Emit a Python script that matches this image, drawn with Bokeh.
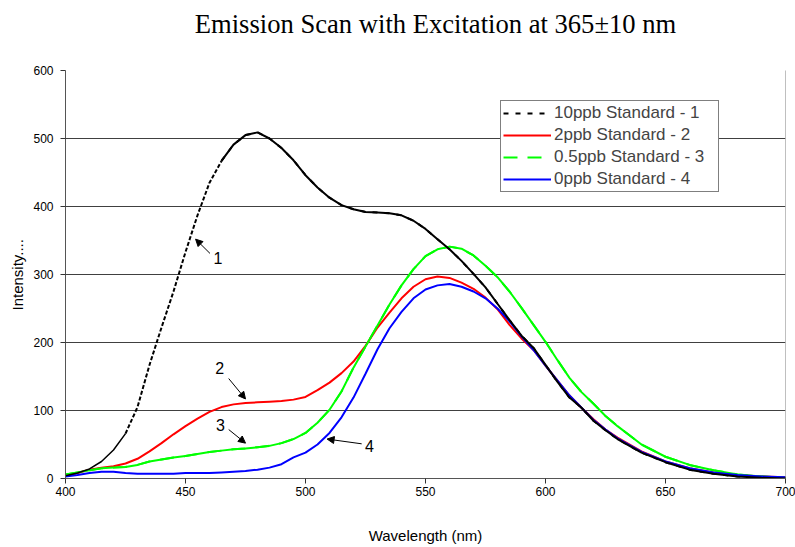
from bokeh.plotting import figure
from bokeh.models import Legend, LegendItem, Arrow, NormalHead, Label, FixedTicker, Title
from bokeh.embed import file_html
from bokeh.resources import INLINE

# ---- data ----
wavelength = [400, 405, 410, 415, 420, 425, 430, 435, 440, 445, 450, 455, 460, 465, 470,
              475, 480, 485, 490, 495, 500, 505, 510, 515, 520, 525, 530, 535, 540, 545,
              550, 555, 560, 565, 570, 575, 580, 585, 590, 595, 600, 605, 610, 615, 620,
              625, 630, 640, 650, 660, 670, 680, 690, 700]

std_10ppb = [4, 8, 14, 25, 42, 66, 105, 167, 222, 275, 333, 387, 435, 467, 491,
             505, 509, 500, 486, 468, 446, 428, 413, 402, 396, 392, 391, 390, 387, 379,
             367, 352, 337, 320, 301, 281, 257, 233, 210, 192, 167, 142, 119, 104, 85,
             71, 58, 38, 24, 13, 7, 3, 1, 0]

std_2ppb = [4, 8, 13, 16, 18, 22, 29, 40, 52, 65, 77, 88, 98, 105, 109,
            111, 112, 113, 114, 116, 120, 130, 141, 155, 172, 195, 222, 244, 265, 282,
            293, 297, 295, 288, 279, 266, 249, 226, 206, 189, 166, 144, 122, 104, 87,
            72, 60, 40, 25, 15, 9, 5, 3, 2]

std_05ppb = [6, 9, 12, 15, 16, 17, 20, 25, 28, 31, 33, 36, 39, 41, 43,
             44, 46, 48, 52, 58, 67, 82, 101, 128, 163, 194, 225, 256, 284, 308,
             327, 337, 341, 338, 328, 313, 296, 275, 251, 226, 201, 174, 148, 127, 110,
             92, 77, 50, 32, 20, 12, 6, 3, 1]

std_0ppb = [3, 5, 8, 10, 10, 8, 7, 7, 7, 7, 8, 8, 8, 9, 10,
            11, 13, 16, 21, 31, 38, 50, 67, 90, 119, 154, 190, 221, 245, 265,
            278, 284, 286, 282, 275, 265, 250, 231, 209, 189, 166, 144, 122, 104, 86,
            72, 59, 39, 25, 15, 9, 5, 3, 2]

series_names = ["10ppb Standard - 1", "2ppb Standard - 2", "0.5ppb Standard - 3", "0ppb Standard - 4"]
x_min, x_max = 400, 700
y_min, y_max = 0, 600
x_ticks = [400, 450, 500, 550, 600, 650, 700]
y_ticks = [0, 100, 200, 300, 400, 500, 600]
grid_lines = [100, 200, 300, 400, 500]

# curve annotations: label text, label position, arrow tail, arrow tip
ann_text = ["1", "2", "3", "4"]
ann_label_x = [463.5, 464.3, 464.6, 526.6]
ann_label_y = [325, 163, 78, 48]
ann_tail_x = [460.2, 468.0, 468.0, 523.4]
ann_tail_y = [331, 147, 72, 51]
ann_tip_x = [454.2, 475.0, 475.0, 509.0]
ann_tip_y = [352, 117, 52, 58]

# ---- figure ----
# the frame extends to the top of the canvas so that the title can sit inside it;
# the 0..600 intensity scale occupies the lower 408 px of the 478 px frame
W, H = 795, 547
border_left, border_right, border_bottom = 65, 10, 69
frame_h = H - border_bottom
plot_h = 408
y_top = y_max * frame_h / plot_h

p = figure(width=W, height=H, x_range=(x_min, x_max), y_range=(y_min, y_top),
           output_backend="svg", toolbar_location=None,
           min_border_left=border_left, min_border_right=border_right,
           min_border_top=0, min_border_bottom=border_bottom)
p.outline_line_color = None
p.background_fill_color = "white"
p.border_fill_color = "white"

# axes
for ax in (p.xaxis, p.yaxis):
    ax.axis_line_color = "#555555"
    ax.major_tick_line_color = "#333333"
    ax.major_tick_out = 5
    ax.major_tick_in = 0
    ax.minor_tick_line_color = None
    ax.major_label_text_font = "Liberation Sans"
    ax.major_label_text_font_size = "12px"
    ax.major_label_text_color = "black"
    ax.axis_label_text_font = "Liberation Sans"
    ax.axis_label_text_font_size = "15px"
    ax.axis_label_text_font_style = "normal"
    ax.axis_label_text_color = "black"
p.xaxis.ticker = FixedTicker(ticks=x_ticks)
p.yaxis.ticker = FixedTicker(ticks=y_ticks)
p.yaxis.bounds = (y_min, y_max)
p.xaxis.major_label_standoff = 3
p.yaxis.major_label_standoff = 7
p.xaxis.axis_label = "Wavelength (nm)"
p.xaxis.axis_label_standoff = 28

# y-axis title, placed along the 0..600 part of the frame
p.add_layout(Title(text="Intensity....", align="left", offset=168,
                   text_font="Liberation Sans", text_font_size="15px",
                   text_font_style="normal", text_color="black", standoff=9), "left")

p.xgrid.visible = False
p.ygrid.ticker = FixedTicker(ticks=grid_lines)
p.ygrid.grid_line_color = "#404040"
p.ygrid.grid_line_width = 1

# right edge of the plot area
p.segment(x0=[x_max], y0=[y_min], x1=[x_max], y1=[y_max], line_color="#808080", line_width=1)

# ---- curves ----
i_a = wavelength.index(425)
i_b = wavelength.index(465)

# legend-style renderers, hidden underneath the solid curves drawn over them
leg_green = p.line(wavelength, std_05ppb, line_color="#00FF00", line_width=2, line_dash="14 10")
leg_black = p.line(wavelength[i_b:], std_10ppb[i_b:], line_color="black", line_width=2,
                   line_dash="5 7")

r_red = p.line(wavelength, std_2ppb, line_color="#FF0000", line_width=2)
r_green = p.line(wavelength, std_05ppb, line_color="#00FF00", line_width=2)
r_blue = p.line(wavelength, std_0ppb, line_color="#0000FF", line_width=2)
p.line(wavelength[:i_a + 1], std_10ppb[:i_a + 1], line_color="black", line_width=1.5)
p.line(wavelength[i_a:i_b + 1], std_10ppb[i_a:i_b + 1], line_color="black", line_width=2,
       line_dash="4 2")
p.line(wavelength[i_b:], std_10ppb[i_b:], line_color="black", line_width=2)

legend = Legend(items=[LegendItem(label=series_names[0], renderers=[leg_black]),
                       LegendItem(label=series_names[1], renderers=[r_red]),
                       LegendItem(label=series_names[2], renderers=[leg_green]),
                       LegendItem(label=series_names[3], renderers=[r_blue])],
                location=(435, 286), orientation="vertical",
                border_line_color="black", border_line_width=1,
                background_fill_color="white", background_fill_alpha=1,
                padding=2, spacing=2, margin=0,
                label_text_font="Liberation Sans", label_text_font_size="17px",
                label_height=20, glyph_height=20, glyph_width=48, label_standoff=3,
                label_width=162)
p.add_layout(legend, "center")

# ---- annotations ----
for k in range(len(ann_text)):
    p.add_layout(Arrow(end=NormalHead(size=7, fill_color="black", line_color="black"),
                       x_start=ann_tail_x[k], y_start=ann_tail_y[k],
                       x_end=ann_tip_x[k], y_end=ann_tip_y[k],
                       line_color="black", line_width=1))
    p.add_layout(Label(x=ann_label_x[k], y=ann_label_y[k], text=ann_text[k],
                       text_align="center", text_baseline="middle",
                       text_font="Liberation Sans", text_font_size="16px", text_color="black"))

# title (screen units, measured from the frame's bottom-left corner)
p.add_layout(Label(x=370, y=frame_h - 23, x_units="screen", y_units="screen",
                   text="Emission Scan with Excitation at 365\u00b110 nm",
                   text_align="center", text_baseline="middle",
                   text_font="Liberation Serif", text_font_size="26.6px", text_color="black"))

open("out.html", "w").write(file_html(p, INLINE))
